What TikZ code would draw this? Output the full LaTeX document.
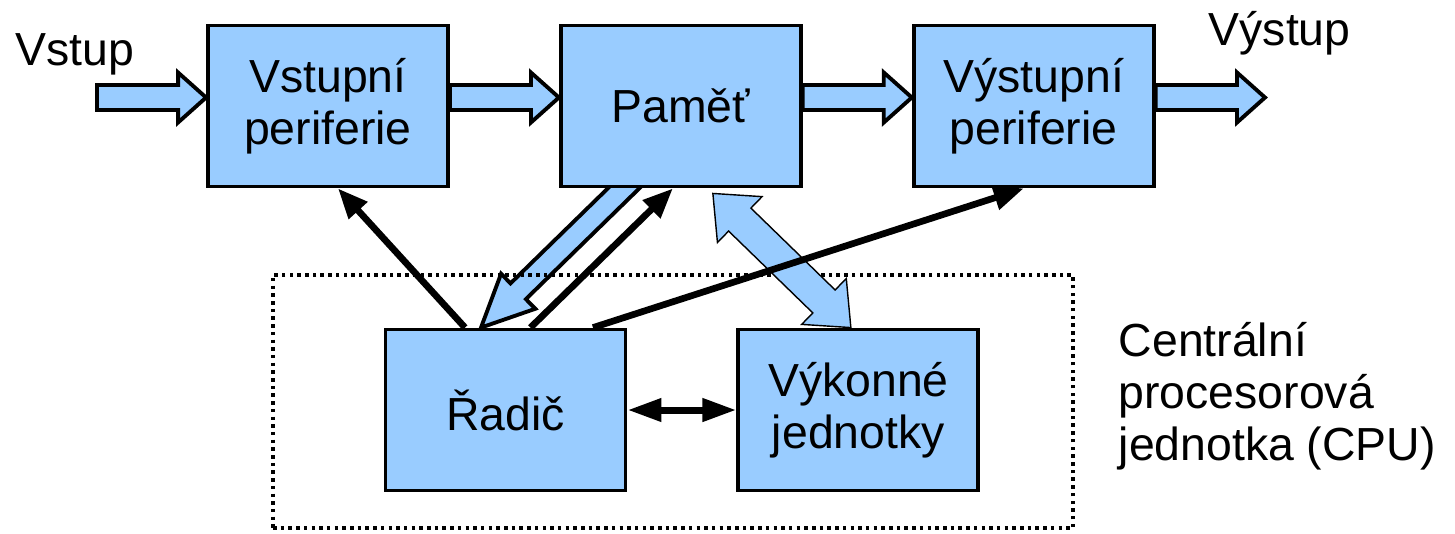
\documentclass[tikz,border=0pt]{standalone}
\usepackage{fontspec}
\setmainfont{Liberation Sans}
\usetikzlibrary{positioning}
\usetikzlibrary{calc}
\usetikzlibrary{arrows.meta}
\usetikzlibrary{backgrounds}
\definecolor{unitblue}{HTML}{99CCFF}
\tikzstyle{unit} = [rectangle,fill=unitblue,draw=black,line width=1.1pt,minimum width=2.4cm,minimum height=1.61cm,align=center,font=\fontsize{13.2}{14.8}\selectfont,node distance=1.09cm]
\tikzstyle{lbl} = [align=left,inner sep=0pt,font=\fontsize{13.2}{14.8}\selectfont]
\tikzstyle{cpuframe} = [rectangle,draw=black,line width=0.035cm,dash pattern=on 0.035cm off 0.042cm,minimum width=8cm,minimum height=2.53cm]
\tikzstyle{signal} = [line width=1.9pt,-{Triangle[length=0.3cm,width=0.24cm]}]
\tikzstyle{swap} = [line width=2pt,{Triangle[length=0.34cm,width=0.22cm]}-{Triangle[length=0.34cm,width=0.22cm]}]
% fat arrow: from, to, shaft half width, head half width, head length
\newcommand{\fatarrow}[6][]{%
  \coordinate (fa-h) at ($(#3)!#6!(#2)$);
  \filldraw[fill=unitblue,draw=black,line width=1.1pt,line join=miter,#1]
    ($(#2)!#4!90:(#3)$) -- ($(fa-h)!#4!90:(#3)$) -- ($(fa-h)!#5!90:(#3)$) -- (#3)
    -- ($(fa-h)!#5!-90:(#3)$) -- ($(fa-h)!#4!-90:(#3)$) -- ($(#2)!#4!-90:(#3)$) -- cycle;
}
\newcommand{\fatdarrow}[6][]{%
  \coordinate (fa-h) at ($(#3)!#6!(#2)$);
  \coordinate (fa-t) at ($(#2)!#6!(#3)$);
  \filldraw[fill=unitblue,draw=black,line width=0.4pt,line join=miter,#1]
    (#2) -- ($(fa-t)!#5!90:(#3)$) -- ($(fa-t)!#4!90:(#3)$) -- ($(fa-h)!#4!90:(#3)$) -- ($(fa-h)!#5!90:(#3)$) -- (#3)
    -- ($(fa-h)!#5!-90:(#3)$) -- ($(fa-h)!#4!-90:(#3)$) -- ($(fa-t)!#4!-90:(#3)$) -- ($(fa-t)!#5!-90:(#3)$) -- cycle;
}

\begin{document}
\begin{tikzpicture}
\useasboundingbox (0,0) rectangle (14.55,-5.33);

% Define nodes
\node[cpuframe]                          (cpu) at (6.73,-4.015) {};
\node[unit]                              (vp)  at (3.28,-1.06) {Vstupní\\periferie};
\node[unit, right = of vp]               (pm)  {Paměť};
\node[unit, right = of pm]               (vyp) {Výstupní\\periferie};
\node[unit]                              (rd)  at (5.055,-4.10) {Řadič};
\node[unit, right = of rd]               (vk)  {Výkonné\\jednotky};

\node[lbl, anchor=base west]             (vstup)  at (0.15,-0.65) {Vstup};
\node[lbl, anchor=base west]             (vystup) at (12.08,-0.45) {Výstup};
\node[lbl, anchor=north west]            (cpul)   at (11.18,-3.22) {Centrální\\procesorová\\jednotka (CPU)};

% Ends of the connectors
\coordinate (in)  at (0.97,-0.975);
\coordinate (out) at (12.65,-0.975);
\coordinate (vp-i)  at ([yshift=0.085cm]vp.west);
\coordinate (vp-o)  at ([yshift=0.085cm]vp.east);
\coordinate (pm-i)  at ([yshift=0.085cm]pm.west);
\coordinate (pm-o)  at ([yshift=0.085cm]pm.east);
\coordinate (vyp-i) at ([yshift=0.085cm]vyp.west);
\coordinate (vyp-o) at ([yshift=0.085cm]vyp.east);
\coordinate (pm-d)  at ([xshift=-0.41cm,yshift=0.16cm]pm.south);
\coordinate (rd-d)  at ([xshift=-0.245cm]rd.north);
\coordinate (pm-x)  at ([xshift=0.32cm,yshift=-0.05cm]pm.south);
\coordinate (vk-x)  at ([xshift=-0.075cm]vk.north);

% Edges
\begin{scope}[on background layer]
\fatarrow {in}    {vp-i}  {0.125cm} {0.25cm} {0.28cm}
\fatarrow {vp-o}  {pm-i}  {0.125cm} {0.25cm} {0.28cm}
\fatarrow {pm-o}  {vyp-i} {0.125cm} {0.25cm} {0.28cm}
\fatarrow {vyp-o} {out}   {0.125cm} {0.25cm} {0.28cm}
\fatarrow {pm-d}  {rd-d}  {0.11cm}  {0.245cm} {0.52cm}
\end{scope}
\fatdarrow {pm-x} {vk-x}  {0.16cm}  {0.32cm} {0.375cm}

\draw[signal] ([xshift=-0.405cm]rd.north) -- ([xshift=0.10cm]vp.south);
\draw[signal] ([xshift=0.25cm]rd.north)   -- ([xshift=-0.08cm]pm.south);
\draw[signal] ([xshift=0.875cm]rd.north)  -- ([xshift=-0.10cm]vyp.south);
\draw[swap]   (rd.east) -- (vk.west);
\end{tikzpicture}
\end{document}
